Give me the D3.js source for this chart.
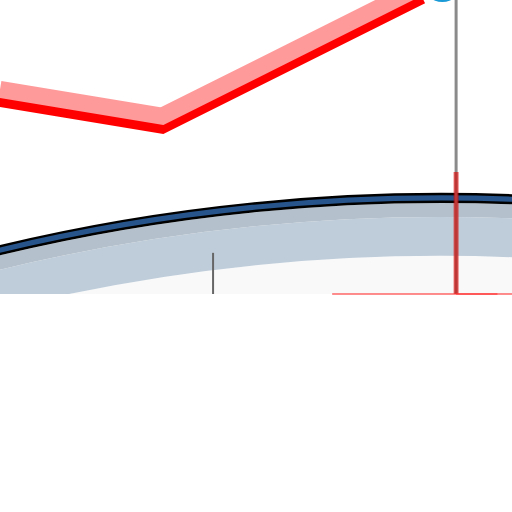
<!DOCTYPE html>
<html>
<head>
<meta charset="utf-8">
<script src="https://cdn.jsdelivr.net/npm/d3@7"></script>
<style>
  body { margin: 0; background: #fff; }
  svg { display: block; }
</style>
</head>
<body>
<div id="chart"></div>
<script>
// data
var lineX    = [0, 1, 2.6];
var pinkVals = [69.6, 60.5, 104.6];
var redVals  = [66.5, 57.4, 101.5];

var ringEdges  = [96.67, 98.73, 99.47, 100];   // inner fill | light | gray | blue ring
var ringColors = ["#bfcdda", "#b4c1cd"];

var markerX = [2.73], markerY = [106.1];
var ruleX = 2.815, ruleTop = 41.5;
var tickX = 1.315, tickTop = 14;
var baseRuns = [[2.05, 3.16], [2.815, 3.07]];

// set the dimensions
var width = 512, height = 512, plotH = 294;

var x = d3.scaleLinear().domain([0, 3.16]).range([0, width]);
var y = d3.scaleLinear().domain([0, 100]).range([plotH, 0]);
var r = d3.scaleLinear().domain([0, 100]).range([0, 1887]);

var svg = d3.select("#chart").append("svg")
    .attr("width", width)
    .attr("height", height);

svg.append("clipPath").attr("id", "plot")
    .append("rect").attr("width", width).attr("height", plotH);

var g = svg.append("g").attr("clip-path", "url(#plot)");

// big ring, centre far below the view
var cx = x(2.717), cy = y(0) + 1786;
var ring = g.append("g").attr("transform", "translate(" + cx + "," + cy + ")");
var arc = d3.arc().startAngle(-0.4).endAngle(0.2);

ring.append("path")
    .attr("d", arc({innerRadius: 0, outerRadius: r(ringEdges[0])}))
    .attr("fill", "#f9f9f9");

for (var i = 0; i < 2; i++) {
  ring.append("path")
      .attr("d", arc({innerRadius: r(ringEdges[i]), outerRadius: r(ringEdges[i + 1])}))
      .attr("fill", ringColors[i]);
}

ring.append("path")
    .attr("d", arc({innerRadius: r(ringEdges[2]) + 1.2, outerRadius: r(ringEdges[3]) - 1.2}))
    .attr("fill", "#27548a")
    .attr("stroke", "#000")
    .attr("stroke-width", 2.5);

// small tick
g.append("line")
    .attr("x1", x(tickX)).attr("x2", x(tickX))
    .attr("y1", y(tickTop)).attr("y2", y(0))
    .attr("stroke", "#666").attr("stroke-width", 2);

// the two-tone line
var line = d3.line()
    .x(function(d) { return x(d[0]); })
    .y(function(d) { return y(d[1]); });

g.append("path")
    .datum(d3.zip(lineX, redVals))
    .attr("d", line)
    .attr("fill", "none")
    .attr("stroke", "#ff0000")
    .attr("stroke-width", 17);

g.append("path")
    .datum(d3.zip(lineX, pinkVals))
    .attr("d", line)
    .attr("fill", "none")
    .attr("stroke", "#ff9a9a")
    .attr("stroke-width", 17);

// marker
g.selectAll(".marker")
    .data(d3.zip(markerX, markerY))
    .enter().append("circle")
    .attr("class", "marker")
    .attr("cx", function(d) { return x(d[0]); })
    .attr("cy", function(d) { return y(d[1]); })
    .attr("r", 20)
    .attr("fill", "#1a9ad6");

// vertical rule
g.append("line")
    .attr("x1", x(ruleX)).attr("x2", x(ruleX))
    .attr("y1", y(110)).attr("y2", y(0))
    .attr("stroke", "#8a8a8a").attr("stroke-width", 3);

g.append("line")
    .attr("x1", x(ruleX)).attr("x2", x(ruleX))
    .attr("y1", y(ruleTop)).attr("y2", y(0))
    .attr("stroke", "#e00000").attr("stroke-opacity", 0.6)
    .attr("stroke-width", 5);

// baseline runs
svg.selectAll(".run")
    .data(baseRuns)
    .enter().append("line")
    .attr("class", "run")
    .attr("x1", function(d) { return x(d[0]); })
    .attr("x2", function(d) { return x(d[1]); })
    .attr("y1", y(0)).attr("y2", y(0))
    .attr("stroke", "#ff3030").attr("stroke-opacity", 0.55)
    .attr("stroke-width", 2);
</script>
</body>
</html>
